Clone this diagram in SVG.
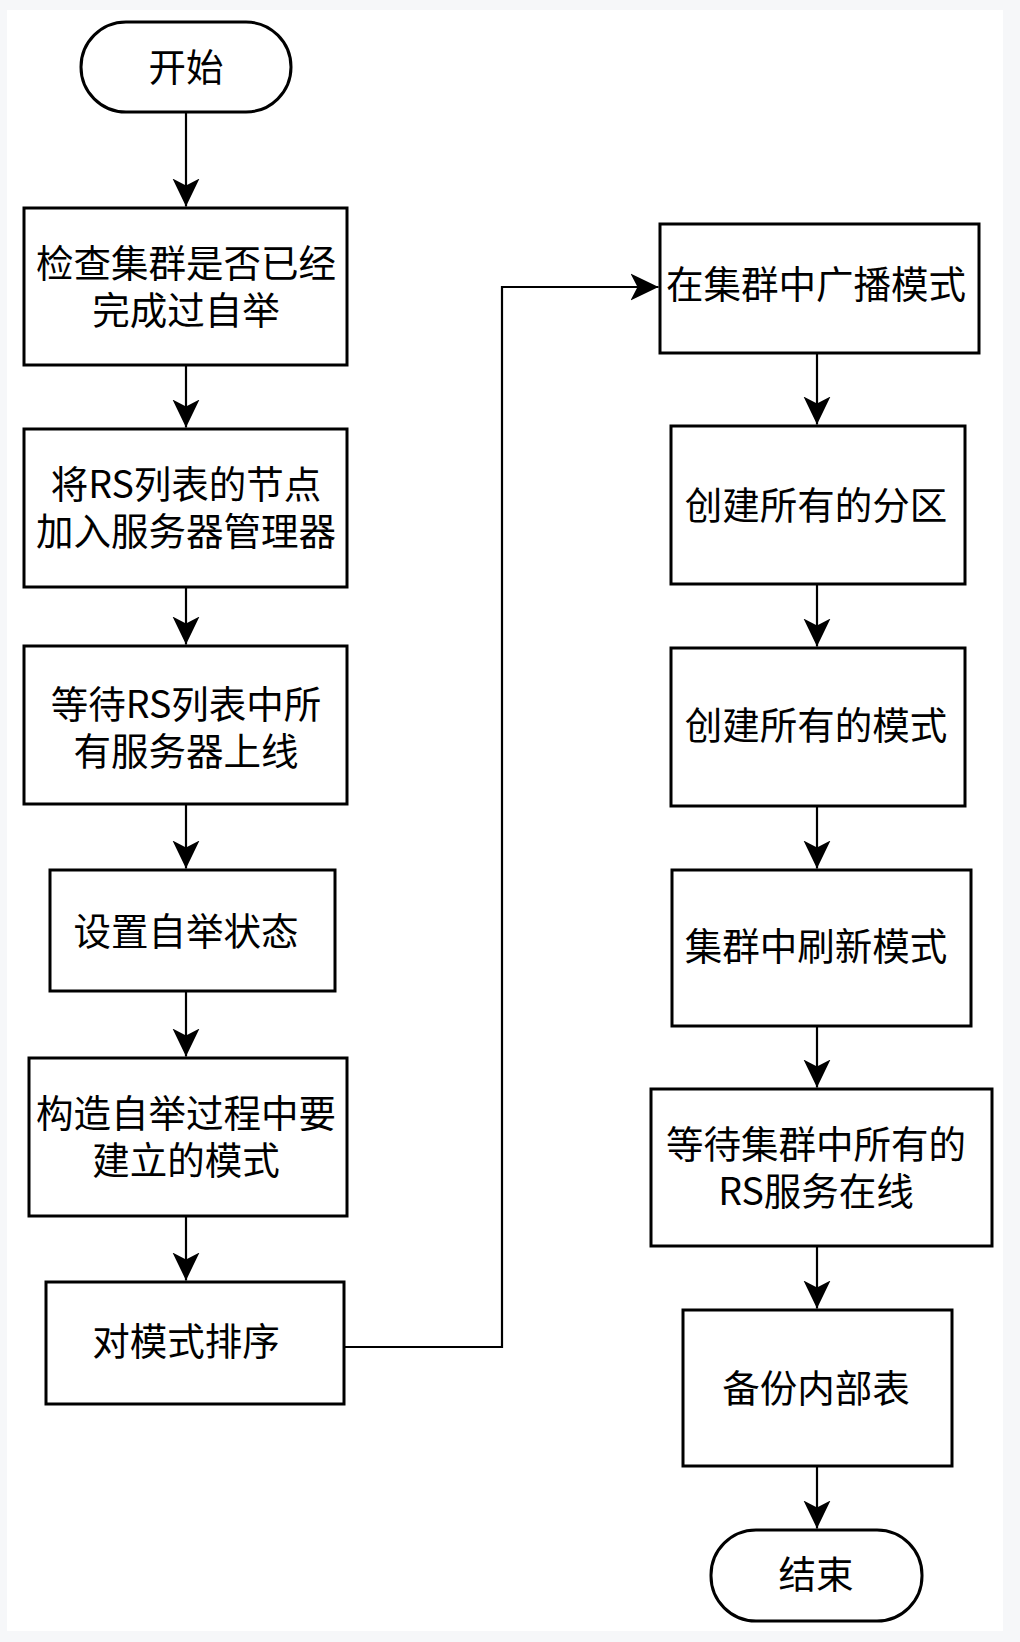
<svg xmlns="http://www.w3.org/2000/svg" width="1020" height="1642" viewBox="0 0 1020 1642">
<style>
.n{fill:#fff;stroke:#000;stroke-width:3}
.t{font-family:"Noto Sans CJK SC","Noto Sans",sans-serif;font-size:37.5px;fill:#000;text-anchor:middle}
.c{fill:none;stroke:#000;stroke-width:2.2;marker-end:url(#ah)}
</style>
<defs>
<marker id="ah" markerUnits="userSpaceOnUse" viewBox="0 0 28 28" markerWidth="28" markerHeight="28" refX="28" refY="14" orient="auto">
<path d="M0,0.5 L28,14 L0,27.5 L7,14 Z" fill="#000"/>
</marker>
</defs>
<rect x="0" y="0" width="1020" height="1642" fill="#f6f7f9"/>
<rect x="7" y="10" width="996" height="1621" fill="#fff"/>
<g id="connectors">
<path class="c" d="M186,112 V206.5"/>
<path class="c" d="M186,365 V427.5"/>
<path class="c" d="M186,587 V644.5"/>
<path class="c" d="M186,804 V868.5"/>
<path class="c" d="M186,991 V1056.5"/>
<path class="c" d="M186,1216 V1280.5"/>
<path class="c" d="M344,1347 H502 V287 H658.5"/>
<path class="c" d="M817,353 V424.5"/>
<path class="c" d="M817,584 V646.5"/>
<path class="c" d="M817,806 V868.5"/>
<path class="c" d="M817,1026 V1087.5"/>
<path class="c" d="M817,1246 V1308.5"/>
<path class="c" d="M817,1466 V1528.5"/>
</g>
<g id="start"><rect class="n" x="81" y="22" width="210" height="90" rx="45"/><text class="t" x="186" y="81">开始</text></g>
<g id="b1"><rect class="n" x="24" y="208" width="323" height="157"/><text class="t" x="186" y="277">检查集群是否已经</text><text class="t" x="186" y="324">完成过自举</text></g>
<g id="b2"><rect class="n" x="24" y="429" width="323" height="158"/><text class="t" x="186" y="498">将RS列表的节点</text><text class="t" x="186" y="545">加入服务器管理器</text></g>
<g id="b3"><rect class="n" x="24" y="646" width="323" height="158"/><text class="t" x="186" y="718">等待RS列表中所</text><text class="t" x="186" y="765">有服务器上线</text></g>
<g id="b4"><rect class="n" x="50" y="870" width="285" height="121"/><text class="t" x="186" y="945">设置自举状态</text></g>
<g id="b5"><rect class="n" x="29" y="1058" width="318" height="158"/><text class="t" x="186" y="1127">构造自举过程中要</text><text class="t" x="186" y="1174">建立的模式</text></g>
<g id="b6"><rect class="n" x="46" y="1282" width="298" height="122"/><text class="t" x="186" y="1355">对模式排序</text></g>
<g id="b7"><rect class="n" x="660" y="224" width="319" height="129"/><text class="t" x="816" y="298">在集群中广播模式</text></g>
<g id="b8"><rect class="n" x="671" y="426" width="294" height="158"/><text class="t" x="816" y="519">创建所有的分区</text></g>
<g id="b9"><rect class="n" x="671" y="648" width="294" height="158"/><text class="t" x="816" y="739">创建所有的模式</text></g>
<g id="b10"><rect class="n" x="672" y="870" width="299" height="156"/><text class="t" x="816" y="960">集群中刷新模式</text></g>
<g id="b11"><rect class="n" x="651" y="1089" width="341" height="157"/><text class="t" x="816" y="1158">等待集群中所有的</text><text class="t" x="816" y="1205">RS服务在线</text></g>
<g id="b12"><rect class="n" x="683" y="1310" width="269" height="156"/><text class="t" x="816" y="1402">备份内部表</text></g>
<g id="end"><rect class="n" x="711" y="1530" width="211" height="91" rx="45"/><text class="t" x="816" y="1588">结束</text></g>
</svg>
